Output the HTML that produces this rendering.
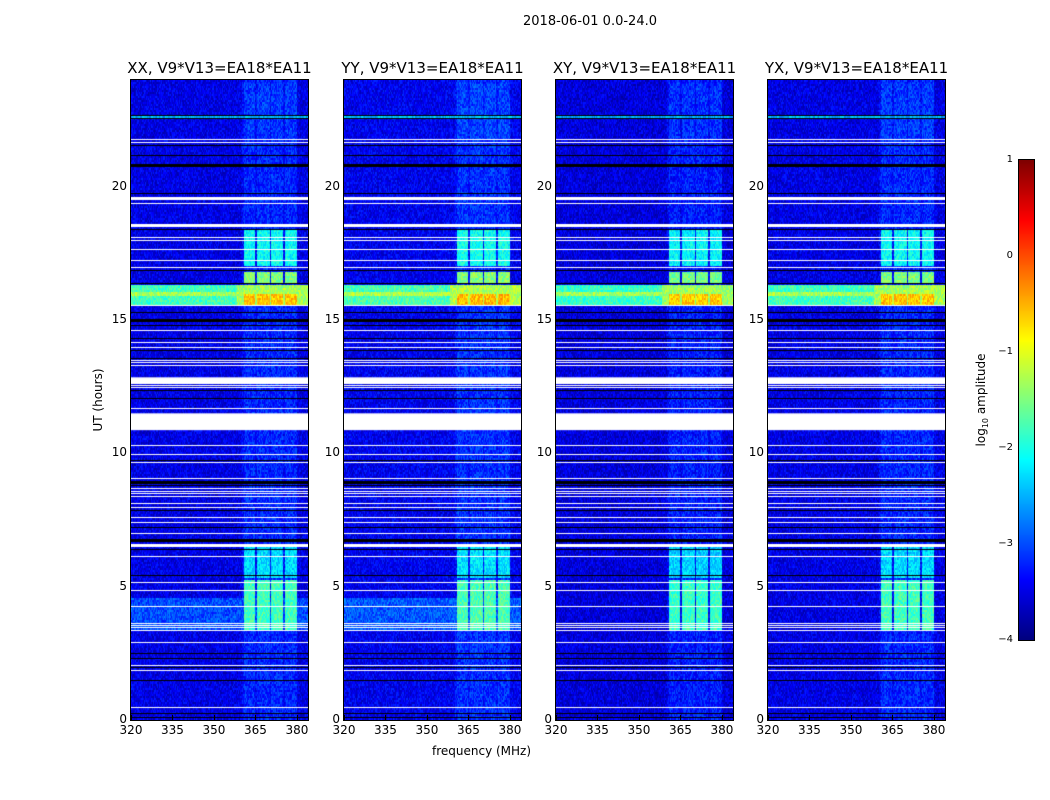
<!DOCTYPE html>
<html><head><meta charset="utf-8">
<style>
body{margin:0;background:#fff;width:1050px;height:800px;overflow:hidden;position:relative;font-family:"DejaVu Sans","Liberation Sans",sans-serif;color:#000}
.t{position:absolute;white-space:nowrap}
canvas{position:absolute}
.frame{position:absolute;border:1px solid #000;box-sizing:border-box}
</style></head><body>
<div class="t" style="left:0;width:1180px;text-align:center;top:14px;font-size:13px">2018-06-01 0.0-24.0</div>
<div id="root"></div>
<div class="t" style="left:432px;top:744px;font-size:12px">frequency (MHz)</div>
<div class="t" style="left:98px;top:400px;font-size:12px;transform:translate(-50%,-50%) rotate(-90deg)">UT (hours)</div>
<canvas id="cb" width="15" height="480" style="left:1019px;top:160px"></canvas>
<div class="frame" style="left:1018px;top:159px;width:17px;height:482px"></div>
<div id="cbt"></div>
<div class="t" style="left:982px;top:400px;font-size:12px;transform:translate(-50%,-50%) rotate(-90deg)">log<sub style="font-size:8px">10</sub> amplitude</div>
<script>
// ---- data ----
const panelTitles=["XX, V9*V13=EA18*EA11","YY, V9*V13=EA18*EA11","XY, V9*V13=EA18*EA11","YX, V9*V13=EA18*EA11"];
const panelGain=[0,0.05,-0.05,0];
const xTicks=[320,335,350,365,380];
const yTicks=[0,5,10,15,20];
const cbTicks=[-4,-3,-2,-1,0,1];
const baseLevel=-3.5;
const colStart=[360.5,365.4,370.6,375.6];
const colEnd=[364.8,370.0,374.8,379.8];
const evStart=[15.58,15.58,16.4,17.06,5.35,3.37,3.4,21.8,22.55,15.9];
const evEnd=[16.33,16.0,16.8,18.4,6.6,5.25,4.6,23.9,22.65,16.05];
const evLevel=[-1.8,-0.6,-1.5,-2.1,-2.3,-1.8,-3.0,-3.1,-2.5,-1.3];
const evColsOnly=[0,1,1,1,1,1,0,1,0,0];
const whiteRows=[21.78,21.69,19.58,19.4,18.56,18.1,18.0,17.66,17.25,17.0,15.56,14.62,14.18,14.0,13.5,13.41,13.31,12.56,12.5,11.69,10.31,9.97,9.67,9.07,8.69,8.6,8.5,8.41,8.12,7.97,7.62,7.41,7.0,6.56,6.15,5.19,4.86,4.27,3.65,3.56,3.47,3.37,2.94,2.06,1.87,0.5];
const whiteBandStart=[10.87,12.6];
const whiteBandEnd=[11.5,12.85];
const blackRows=[22.69,22.56,21.56,21.19,20.81,19.76,18.43,16.87,16.39,15.31,15.0,14.81,14.32,13.87,13.57,12.37,12.07,9.75,8.94,8.81,7.87,7.25,6.75,6.41,5.44,2.51,2.32,2.0,1.5,0.26,0.12];

// ---- axes ----
const px0=[131,344,556,768], PW=177, PT=80, PH=640;
const fmin=320,fmax=384,hmax=24;
function xs(f,i){return px0[i]+(f-fmin)/(fmax-fmin)*PW;}
function ys(h){return PT+PH-h/hmax*PH;}
function jet(t){t=Math.max(0,Math.min(1,t));
 const r=Math.max(0,Math.min(1,1.5-Math.abs(4*t-3))),g=Math.max(0,Math.min(1,1.5-Math.abs(4*t-2))),b=Math.max(0,Math.min(1,1.5-Math.abs(4*t-1)));
 return [r*255|0,g*255|0,b*255|0];}
function hash(a,b,c){let h=(a*374761393+b*668265263+c*2147483647)|0;h=(h^(h>>>13))*1274126177|0;return ((h^(h>>>16))>>>0)/4294967296;}
const thick=[15.0,20.81,6.75,8.94];
const root=document.getElementById('root');
for(let i=0;i<4;i++){
 const cv=document.createElement('canvas');cv.width=PW;cv.height=PH;cv.style.left=px0[i]+'px';cv.style.top=PT+'px';
 
 
 root.appendChild(cv);
 const ctx=cv.getContext('2d'),img=ctx.createImageData(PW,PH);
 for(let y=0;y<PH;y++){const h=(PH-y)/PH*hmax;
  for(let x=0;x<PW;x++){const f=fmin+x/PW*(fmax-fmin);
   let inCol=false;for(let k=0;k<colStart.length;k++)if(f>=colStart[k]&&f<=colEnd[k])inCol=true;
   let v=baseLevel+panelGain[i]+(f>=360&&f<=380?0.15:0)+(inCol?0.15:0);
   for(let e=0;e<evStart.length;e++){if(h>=evStart[e]&&h<=evEnd[e]&&(!evColsOnly[e]||inCol)){
     if(e==6&&i>=2)continue;
     let L=evLevel[e];if(e==0&&f>=358)L+=0.5;v=Math.max(v,L+panelGain[i]);}}
   v+=(hash(x,y>>1,i)-0.5)*0.6;
   const c=jet((v+4)/5);const o=(y*PW+x)*4;img.data[o]=c[0];img.data[o+1]=c[1];img.data[o+2]=c[2];img.data[o+3]=255;}}
 ctx.putImageData(img,0,0);
 ctx.fillStyle='#000';
 blackRows.forEach(h=>{const t=thick.includes(h);ctx.fillRect(0,Math.round(ys(h)-PT-(t?1:0)),PW,t?3:1);});
 ctx.fillStyle='#fff';
 whiteRows.forEach(h=>{const t=(h==19.58||h==18.56||h==6.56);ctx.fillRect(0,Math.round(ys(h)-PT-(t?1:0)),PW,t?3:1);});
 whiteBandStart.forEach((s,k)=>{ctx.fillRect(0,ys(whiteBandEnd[k])-PT,PW,ys(s)-ys(whiteBandEnd[k]));});
 const fr=document.createElement('div');fr.className='frame';fr.style.cssText=`left:${px0[i]-1}px;top:${PT-1}px;width:${PW+2}px;height:${PH+2}px`;
 
 
 root.appendChild(fr);
 const tt=document.createElement('div');tt.className='t';tt.textContent=panelTitles[i];
 tt.style.cssText=`left:${px0[i]+PW/2}px;top:59px;font-size:15px;transform:translateX(-50%)`;
 
 
 root.appendChild(tt);
 xTicks.forEach(v=>{const l=document.createElement('div');l.className='t';l.textContent=v;
  l.style.cssText=`left:${xs(v,i)}px;top:723px;font-size:12px;transform:translateX(-50%)`;
  
  
  root.appendChild(l);
  const m=document.createElement('div');m.style.cssText=`position:absolute;left:${xs(v,i)}px;top:${PT+PH-5}px;width:1px;height:5px;background:#000`;
  
  
  root.appendChild(m);});
 yTicks.forEach(v=>{const l=document.createElement('div');l.className='t';l.textContent=v;
  l.style.cssText=`right:${1050-px0[i]+4}px;top:${ys(v)-8}px;font-size:12px`;
  
  
  root.appendChild(l);});
}
// colorbar
const cb=document.getElementById('cb').getContext('2d');
for(let y=0;y<480;y++){const c=jet(1-y/479);cb.fillStyle=`rgb(${c})`;cb.fillRect(0,y,15,1);}
const cbt=document.getElementById('cbt');
cbTicks.forEach(v=>{const y=160+(1-(v+4)/5)*480;const l=document.createElement('div');l.className='t';
 l.textContent=v<0?'\u2212'+(-v):v;l.style.cssText=`right:${1050-1013}px;top:${y-6}px;font-size:10px`;
 
 
 cbt.appendChild(l);});
</script>
</body></html>
